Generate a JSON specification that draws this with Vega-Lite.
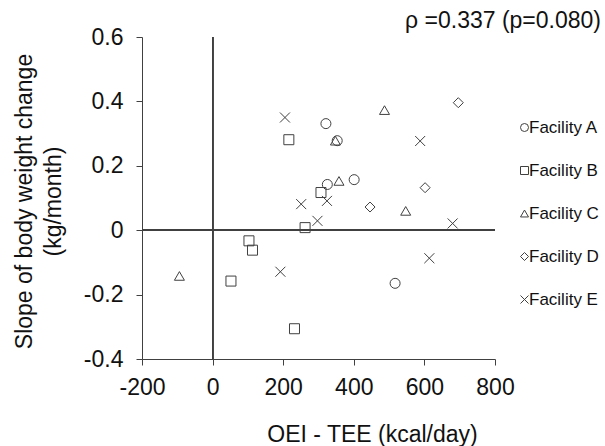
{
  "$schema": "https://vega.github.io/schema/vega-lite/v6.json",
  "width": 353,
  "height": 322,
  "autosize": {"type": "none"},
  "padding": {"left": 142, "top": 37, "right": 110, "bottom": 87},
  "background": "white",
  "config": {
    "view": {"stroke": null},
    "font": "Liberation Sans",
    "axis": {"grid": false, "labelFlush": false, "domainColor": "#404040", "tickColor": "#404040", "labelColor": "#111", "titleColor": "#111", "labelFont": "Liberation Sans", "titleFont": "Liberation Sans", "titleFontWeight": "normal"}
  },
  "title": {
    "text": "ρ =0.337 (p=0.080)",
    "anchor": "end",
    "frame": "group",
    "orient": "top",
    "dx": 106,
    "offset": -7,
    "fontSize": 23,
    "fontWeight": "normal",
    "font": "Liberation Sans",
    "color": "#111"
  },
  "data": {
    "values": [
      {"facility": "Facility A", "x": 321, "y": 0.331},
      {"facility": "Facility A", "x": 353, "y": 0.278},
      {"facility": "Facility A", "x": 325, "y": 0.142},
      {"facility": "Facility A", "x": 401, "y": 0.157},
      {"facility": "Facility A", "x": 517, "y": -0.165},
      {"facility": "Facility B", "x": 216, "y": 0.281},
      {"facility": "Facility B", "x": 307, "y": 0.117},
      {"facility": "Facility B", "x": 262, "y": 0.008},
      {"facility": "Facility B", "x": 103, "y": -0.033},
      {"facility": "Facility B", "x": 113, "y": -0.062},
      {"facility": "Facility B", "x": 52, "y": -0.158},
      {"facility": "Facility B", "x": 232, "y": -0.306},
      {"facility": "Facility C", "x": 487, "y": 0.373},
      {"facility": "Facility C", "x": 348, "y": 0.278},
      {"facility": "Facility C", "x": 358, "y": 0.153},
      {"facility": "Facility C", "x": 547, "y": 0.060},
      {"facility": "Facility C", "x": -94, "y": -0.142},
      {"facility": "Facility D", "x": 696, "y": 0.396},
      {"facility": "Facility D", "x": 602, "y": 0.132},
      {"facility": "Facility D", "x": 446, "y": 0.072},
      {"facility": "Facility E", "x": 205, "y": 0.350},
      {"facility": "Facility E", "x": 588, "y": 0.277},
      {"facility": "Facility E", "x": 251, "y": 0.081},
      {"facility": "Facility E", "x": 324, "y": 0.091},
      {"facility": "Facility E", "x": 297, "y": 0.029},
      {"facility": "Facility E", "x": 680, "y": 0.021},
      {"facility": "Facility E", "x": 614, "y": -0.087},
      {"facility": "Facility E", "x": 192, "y": -0.129}
    ]
  },
  "layer": [
    {
      "mark": {"type": "rule", "color": "#404040", "strokeWidth": 1},
      "encoding": {"x": {"datum": 0, "type": "quantitative", "scale": {"domain": [-200, 800]}}}
    },
    {
      "mark": {"type": "rule", "color": "#404040", "strokeWidth": 1},
      "encoding": {"y": {"datum": 0, "type": "quantitative", "scale": {"domain": [-0.4, 0.6]}}}
    },
    {
      "mark": {"type": "point", "filled": false, "size": 100, "strokeWidth": 1, "color": "#404040", "opacity": 1},
      "encoding": {
        "x": {
          "field": "x", "type": "quantitative",
          "scale": {"domain": [-200, 800], "nice": false, "zero": false},
          "axis": {
            "values": [-200, 0, 200, 400, 600, 800],
            "labelExpr": "'' + datum.value",
            "labelFontSize": 23,
            "labelPadding": 11,
            "tickSize": 6,
            "title": "OEI - TEE (kcal/day)",
            "titleFontSize": 23,
            "titleX": 230,
            "titleY": 82,
            "titleBaseline": "alphabetic",
            "titleAnchor": "middle"
          }
        },
        "y": {
          "field": "y", "type": "quantitative",
          "scale": {"domain": [-0.4, 0.6], "nice": false, "zero": false},
          "axis": {
            "values": [-0.4, -0.2, 0, 0.2, 0.4, 0.6],
            "labelExpr": "'' + datum.value",
            "labelFontSize": 23,
            "labelPadding": 13,
            "tickSize": 6,
            "title": ["Slope of body weight change", "(kg/month)"],
            "titleFontSize": 23,
            "titleLineHeight": 29,
            "titleAngle": -90,
            "titleX": -118,
            "titleY": 164,
            "titleBaseline": "middle",
            "titleAnchor": "middle"
          }
        },
        "shape": {
          "field": "facility", "type": "nominal",
          "scale": {
            "domain": ["Facility A", "Facility B", "Facility C", "Facility D", "Facility E"],
            "range": ["circle", "square", "triangle-up", "diamond", "M-1,-1L1,1M-1,1L1,-1"]
          },
          "legend": {
            "title": null,
            "orient": "none",
            "legendX": 374,
            "legendY": 82,
            "padding": 0,
            "symbolSize": 64,
            "symbolStrokeWidth": 1,
            "symbolStrokeColor": "#404040",
            "symbolFillColor": "transparent",
            "labelFontSize": 17,
            "labelFont": "Liberation Sans",
            "labelColor": "#111",
            "labelOffset": -4,
            "rowPadding": 25
          }
        }
      }
    }
  ]
}
